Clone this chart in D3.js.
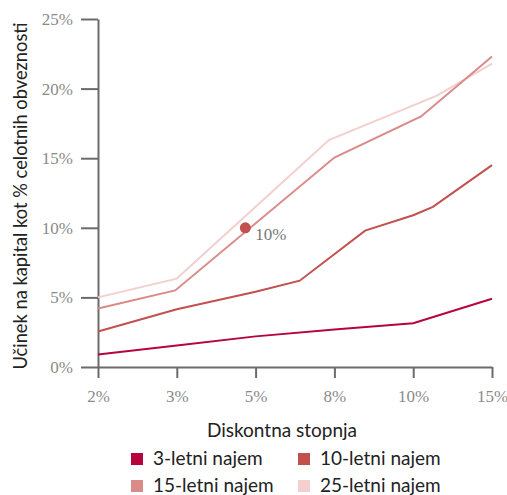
<!DOCTYPE html>
<html>
<head>
<meta charset="utf-8">
<script src="https://cdn.jsdelivr.net/npm/d3@7"></script>
<style>
  body { margin: 0; background: #fff; }
  svg { display: block; }
</style>
</head>
<body>
<div id="chart"></div>
<script>
// discount rates shown on the x axis (evenly spaced)
const rates = ["2%", "3%", "5%", "8%", "10%", "15%"];
const yTicks = [0, 5, 10, 15, 20, 25];

// vertices: x = position along the rate axis (index), y = % of total liabilities
const lease3 = [[0, 0.9], [1, 1.55], [2, 2.2], [3, 2.7], [4, 3.15], [5, 4.9]];
const lease10 = [[0, 2.55], [1, 4.15], [2, 5.4], [2.56, 6.2], [3.39, 9.8], [4, 10.9], [4.25, 11.5], [5, 14.5]];
const lease15 = [[0, 4.2], [0.98, 5.5], [3, 15.05], [4.1, 18.0], [5, 22.3]];
const lease25 = [[0, 5.0], [1, 6.35], [2.93, 16.3], [4.3, 19.5], [5, 21.8]];

const seriesNames = ["3-letni najem", "10-letni najem", "15-letni najem", "25-letni najem"];
const seriesColors = ["#b5053b", "#c2504f", "#db8a8a", "#f3cfcf"];
const seriesData = [lease3, lease10, lease15, lease25];

// highlighted point on the 15-year line
const marker = { x: 1.87, y: 10.0, label: "10%" };

const width = 507, height = 495;
const margin = { top: 19, left: 98, right: 15, bottom: 128 };

const svg = d3.select("#chart").append("svg")
    .attr("width", width)
    .attr("height", height);

const x = d3.scaleLinear()
    .domain([0, rates.length - 1])
    .range([margin.left, width - margin.right]);

const y = d3.scaleLinear()
    .domain([0, 25])
    .range([height - margin.bottom, margin.top]);

const axisColor = "#6b6b6b";
const tickFont = "'Liberation Serif', 'DejaVu Serif', serif";
const sans = "Lato, 'Open Sans', sans-serif";

// y axis
const yAxis = svg.append("g")
    .attr("transform", `translate(${margin.left},0)`)
    .call(d3.axisLeft(y).tickValues(yTicks).tickFormat(d => d + "%").tickSize(17).tickSizeOuter(0).tickPadding(8));

// x axis
const xAxis = svg.append("g")
    .attr("transform", `translate(0,${y(0)})`)
    .call(d3.axisBottom(x).tickValues(d3.range(rates.length)).tickFormat(i => rates[i]).tickSize(11).tickSizeOuter(0).tickPadding(12));

[yAxis, xAxis].forEach(g => {
    g.select(".domain").attr("stroke", axisColor).attr("stroke-width", 2);
    g.selectAll(".tick line").attr("stroke", axisColor).attr("stroke-width", 2);
    g.selectAll(".tick text")
        .attr("fill", "#8a8a8a")
        .style("font-family", tickFont)
        .style("font-size", "17px");
});

// lines
const line = d3.line()
    .x(d => x(d[0]))
    .y(d => y(d[1]));

// draw lightest first so the darker lines sit on top
svg.append("g")
    .selectAll("path")
    .data(seriesData.map((d, i) => ({ values: d, color: seriesColors[i] })).reverse())
    .enter().append("path")
    .attr("d", d => line(d.values))
    .attr("fill", "none")
    .attr("stroke", d => d.color)
    .attr("stroke-width", 2);

// marker point
svg.append("circle")
    .attr("cx", x(marker.x))
    .attr("cy", y(marker.y))
    .attr("r", 5.5)
    .attr("fill", seriesColors[1]);

svg.append("text")
    .attr("x", x(marker.x) + 10)
    .attr("y", y(marker.y) + 12)
    .attr("fill", "#777")
    .style("font-family", tickFont)
    .style("font-size", "17px")
    .text(marker.label);

// axis titles
svg.append("text")
    .attr("x", 282)
    .attr("y", 437)
    .attr("text-anchor", "middle")
    .attr("fill", "#222")
    .style("font-family", sans)
    .style("font-size", "19px")
    .text("Diskontna stopnja");

svg.append("text")
    .attr("transform", `translate(27,196) rotate(-90)`)
    .attr("text-anchor", "middle")
    .attr("fill", "#222")
    .style("font-family", sans)
    .style("font-size", "18.3px")
    .text("Učinek na kapital kot % celotnih obveznosti");

// legend
const legendPos = [[131, 453], [298, 453], [131, 480], [298, 480]];
const legend = svg.append("g")
    .selectAll("g")
    .data(seriesNames)
    .enter().append("g")
    .attr("transform", (d, i) => `translate(${legendPos[i][0]},${legendPos[i][1]})`);

legend.append("rect")
    .attr("width", 12)
    .attr("height", 12)
    .attr("fill", (d, i) => seriesColors[i]);

legend.append("text")
    .attr("x", 22)
    .attr("y", 12)
    .attr("fill", "#222")
    .style("font-family", sans)
    .style("font-size", "19px")
    .text(d => d);
</script>
</body>
</html>
